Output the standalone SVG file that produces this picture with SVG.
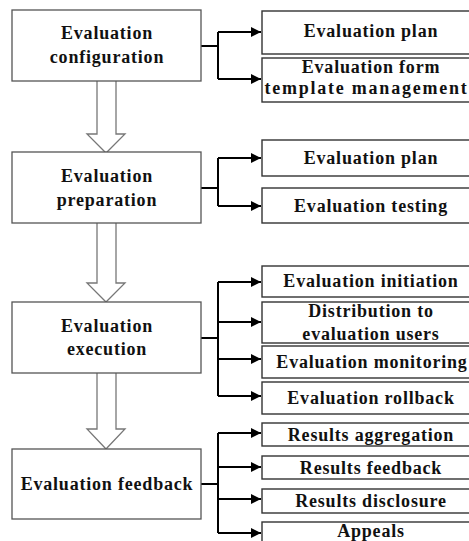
<svg xmlns="http://www.w3.org/2000/svg" width="469" height="541" viewBox="0 0 469 541">
<defs>
<marker id="ah" viewBox="0 0 10 10" refX="10" refY="5" markerWidth="10" markerHeight="10" markerUnits="userSpaceOnUse" orient="auto">
<path d="M0,0 L10,5 L0,10 z" fill="#000"/>
</marker>
<style>
.lbox{fill:#fff;stroke:#555;stroke-width:1.3}
.rbox{fill:#fff;stroke:#333;stroke-width:1.4}
.t{font-family:"Liberation Serif","Times New Roman",serif;font-weight:bold;font-size:18px;letter-spacing:0.8px;fill:#111;text-anchor:middle}
.c{fill:none;stroke:#000;stroke-width:2}
.big{fill:#fff;stroke:#777;stroke-width:1.3}
</style>
</defs>
<rect width="469" height="541" fill="#fff"/>
<g id="connectors">
<path class="big" d="M97,81 V134 H87 L106,153 L125,134 H116 V81"/>
<path class="big" d="M97,223 V283 H87 L106,302 L125,283 H116 V223"/>
<path class="big" d="M97,373 V429 H87 L106,449 L125,429 H116 V373"/>
<path class="c" d="M201,46 H218"/>
<path class="c" d="M218,32 V79"/>
<path class="c" d="M218,32 H261" marker-end="url(#ah)"/>
<path class="c" d="M218,79 H261" marker-end="url(#ah)"/>
<path class="c" d="M201,188 H218"/>
<path class="c" d="M218,158 V206"/>
<path class="c" d="M218,158 H261" marker-end="url(#ah)"/>
<path class="c" d="M218,206 H261" marker-end="url(#ah)"/>
<path class="c" d="M201,338 H218"/>
<path class="c" d="M218,282 V396"/>
<path class="c" d="M218,282 H261" marker-end="url(#ah)"/>
<path class="c" d="M218,322 H261" marker-end="url(#ah)"/>
<path class="c" d="M218,359 H261" marker-end="url(#ah)"/>
<path class="c" d="M218,396 H261" marker-end="url(#ah)"/>
<path class="c" d="M201,484 H218"/>
<path class="c" d="M218,433 V533"/>
<path class="c" d="M218,433 H261" marker-end="url(#ah)"/>
<path class="c" d="M218,467 H261" marker-end="url(#ah)"/>
<path class="c" d="M218,499 H261" marker-end="url(#ah)"/>
<path class="c" d="M218,533 H261" marker-end="url(#ah)"/>
</g>
<g id="config">
<rect class="lbox" x="12" y="10" width="189" height="71"/>
<text class="t" x="107" y="39">Evaluation</text>
<text class="t" x="107" y="63">configuration</text>
</g>
<g id="prep">
<rect class="lbox" x="12" y="152" width="189" height="71"/>
<text class="t" x="107" y="182">Evaluation</text>
<text class="t" x="107" y="206">preparation</text>
</g>
<g id="exec">
<rect class="lbox" x="12" y="302" width="189" height="71"/>
<text class="t" x="107" y="332">Evaluation</text>
<text class="t" x="107" y="355">execution</text>
</g>
<g id="feedback">
<rect class="lbox" x="12" y="449" width="189" height="70"/>
<text class="t" x="107" y="490">Evaluation feedback</text>
</g>
<g id="plan1">
<rect class="rbox" x="262" y="11" width="215" height="43"/>
<text class="t" x="371" y="37">Evaluation plan</text>
</g>
<g id="template">
<rect class="rbox" x="262" y="58" width="215" height="44"/>
<text class="t" x="371" y="73">Evaluation form</text>
<text class="t" x="366" y="94" textLength="203" lengthAdjust="spacing">template management</text>
</g>
<g id="plan2">
<rect class="rbox" x="262" y="140" width="215" height="36"/>
<text class="t" x="371" y="164">Evaluation plan</text>
</g>
<g id="testing">
<rect class="rbox" x="262" y="188" width="215" height="35"/>
<text class="t" x="371" y="212">Evaluation testing</text>
</g>
<g id="initiation">
<rect class="rbox" x="262" y="266" width="215" height="31"/>
<text class="t" x="371" y="287">Evaluation initiation</text>
</g>
<g id="distribution">
<rect class="rbox" x="262" y="302" width="215" height="41"/>
<text class="t" x="371" y="317">Distribution to</text>
<text class="t" x="371" y="340">evaluation users</text>
</g>
<g id="monitoring">
<rect class="rbox" x="262" y="346" width="215" height="32"/>
<text class="t" x="372" y="368">Evaluation monitoring</text>
</g>
<g id="rollback">
<rect class="rbox" x="262" y="382" width="215" height="32"/>
<text class="t" x="371" y="404">Evaluation rollback</text>
</g>
<g id="aggregation">
<rect class="rbox" x="262" y="423" width="215" height="23"/>
<text class="t" x="371" y="441">Results aggregation</text>
</g>
<g id="resfeedback">
<rect class="rbox" x="262" y="456" width="215" height="23"/>
<text class="t" x="371" y="474">Results feedback</text>
</g>
<g id="disclosure">
<rect class="rbox" x="262" y="489" width="215" height="24"/>
<text class="t" x="371" y="507">Results disclosure</text>
</g>
<g id="appeals">
<rect class="rbox" x="262" y="522" width="215" height="30"/>
<text class="t" x="371" y="537">Appeals</text>
</g>
</svg>
